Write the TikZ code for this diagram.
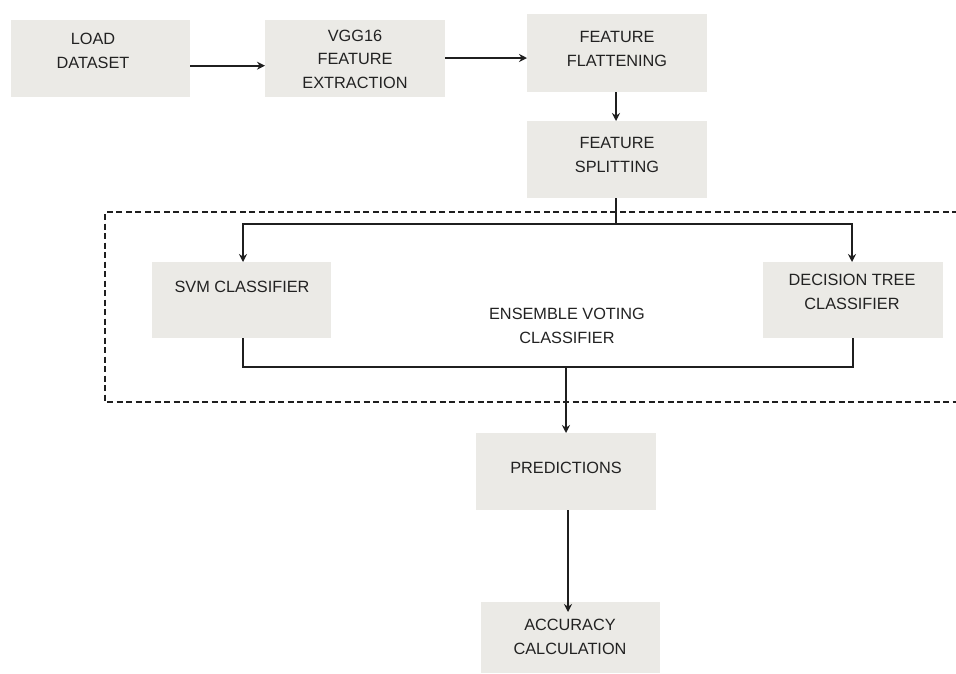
\documentclass[tikz,border=0pt]{standalone}
\usepackage{fontspec}
\setmainfont{Liberation Sans}
\usetikzlibrary{arrows.meta,calc}
\definecolor{boxfill}{HTML}{EBEAE6}
\definecolor{txt}{HTML}{222222}
\tikzset{
  box/.style={fill=boxfill,draw=none,inner sep=0pt,anchor=north west},
  lbl/.style={text=txt,align=center,font=\fontsize{16.3}{23.5}\selectfont,inner sep=0pt},
  conn/.style={line width=2.2pt,black!88},
  arr/.style={conn,-{Stealth[length=8pt,width=8pt]}},
  dashbox/.style={line width=1.8pt,black!88,dash pattern=on 6pt off 3.5pt}
}
\begin{document}
\begin{tikzpicture}[x=1pt,y=-1pt]
\useasboundingbox (0,0) rectangle (956,673);
% boxes
\node[box,minimum width=179pt,minimum height=77pt] (load) at (11,20) {};
\node[box,minimum width=180pt,minimum height=77pt] (vgg) at (265,20) {};
\node[box,minimum width=180pt,minimum height=78pt] (ff) at (527,14) {};
\node[box,minimum width=180pt,minimum height=77pt] (fs) at (527,121) {};
\node[box,minimum width=179pt,minimum height=76pt] (svm) at (152,262) {};
\node[box,minimum width=180pt,minimum height=76pt] (dt) at (763,262) {};
\node[box,minimum width=180pt,minimum height=77pt] (pred) at (476,433) {};
\node[box,minimum width=179pt,minimum height=71pt] (acc) at (481,602) {};
% texts
\node[lbl] (tload) at (93,51) {LOAD\\DATASET};
\node[lbl] (tvgg) at (355,59) {VGG16\\FEATURE\\EXTRACTION};
\node[lbl] (tff) at (617,49) {FEATURE\\FLATTENING};
\node[lbl] (tfs) at (617,155) {FEATURE\\SPLITTING};
\node[lbl] (tsvm) at (242,287) {SVM CLASSIFIER};
\node[lbl] (tdt) at (852,292) {DECISION TREE\\CLASSIFIER};
\node[lbl] (tens) at (567,326) {ENSEMBLE VOTING\\CLASSIFIER};
\node[lbl] (tpred) at (566,468) {PREDICTIONS};
\node[lbl] (tacc) at (570,637) {ACCURACY\\CALCULATION};
% dashed frame
\draw[dashbox] (958,212) -- (105,212) -- (105,402) -- (958,402);
% coordinates
\coordinate (split) at (616,224);
\coordinate (splitL) at (243,224);
\coordinate (splitR) at (852,224);
\coordinate (joinL) at (243,367);
\coordinate (joinR) at (853,367);
\coordinate (join) at (566,367);
% connectors
\draw[arr] ([yshift=-7pt]load.east) -- ([yshift=-7pt]load.east -| vgg.west);
\draw[arr] (vgg.east |- 0,58) -- (ff.west |- 0,58);
\draw[arr] (616,92) -- (fs.north -| 616,0);
\draw[conn] (fs.south -| split) -- (split);
\draw[arr] (splitL) -- (splitR) -- (dt.north -| splitR);
\draw[arr] (split) -- (splitL) -- (svm.north -| splitL);
\draw[conn] (svm.south -| joinL) -- (joinL) -- (joinR) -- (dt.south -| joinR);
\draw[arr] (join) -- (pred.north -| join);
\draw[arr] (pred.south -| 568,0) -- ([yshift=-10pt]acc.north -| 568,0);
\end{tikzpicture}
\end{document}
